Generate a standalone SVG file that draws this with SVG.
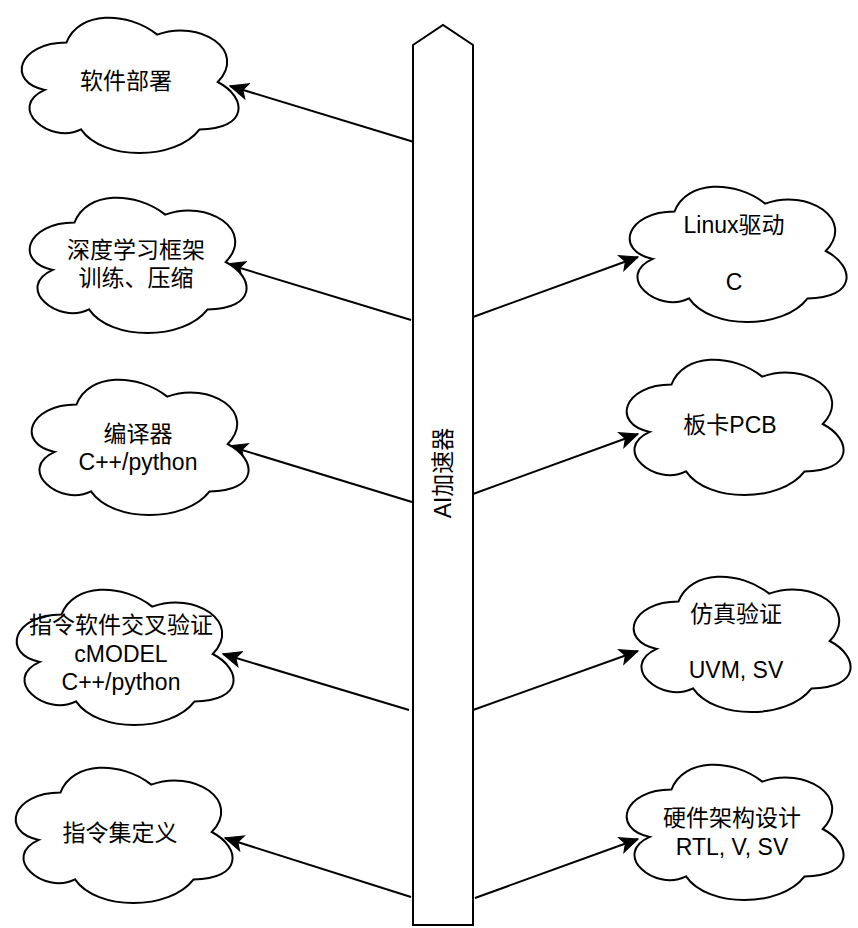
<svg xmlns="http://www.w3.org/2000/svg" xmlns:xlink="http://www.w3.org/1999/xlink" width="858" height="928" viewBox="0 0 858 928">
<style>
.cloud{fill:#fff;stroke:#000;stroke-width:2}
.shape{fill:#fff;stroke:#000;stroke-width:2}
.lbl{font-family:"Liberation Sans",Arial,"Noto Sans CJK SC",sans-serif;font-size:23px;fill:#000;text-anchor:middle}
.edge{fill:none;stroke:#000;stroke-width:2;marker-end:url(#arrow)}
</style>
<defs>
<path id="cloudShape" d="M60.5,39.5 C12.1,39.5 0,79 38.72,86.9 C0,104.28 43.56,142.2 75.02,126.4 C96.8,158 169.4,158 193.6,126.4 C242,126.4 242,94.8 211.75,79 C242,47.4 193.6,15.8 151.25,31.6 C121,7.9 72.6,7.9 60.5,39.5 Z"/>
<marker id="arrow" markerUnits="userSpaceOnUse" markerWidth="20" markerHeight="20" viewBox="-17 -8 18 16" refX="0" refY="0" orient="auto">
<path d="M0,0 L-16,-7 L-12,0 L-16,7 Z" fill="#000" stroke="#000" stroke-width="1"/>
</marker>
</defs>
<rect width="858" height="928" fill="#fff"/>

<g id="connectors">
<line class="edge" x1="414" y1="142" x2="230" y2="86"/>
<line class="edge" x1="411" y1="320" x2="227" y2="264"/>
<line class="edge" x1="412" y1="502" x2="229" y2="446"/>
<line class="edge" x1="409" y1="710" x2="223" y2="654"/>
<line class="edge" x1="411" y1="897" x2="225" y2="838"/>
<line class="edge" x1="473" y1="317" x2="638" y2="257"/>
<line class="edge" x1="473" y1="494" x2="638" y2="434"/>
<line class="edge" x1="473" y1="710" x2="638" y2="651"/>
<line class="edge" x1="475" y1="898" x2="638" y2="839"/>
</g>

<g id="ai-accelerator">
<polygon class="shape" points="413,45 443,25 473,45 473,925 413,925"/>
<text class="lbl" transform="translate(451,473) rotate(-90)">AI加速器</text>
</g>

<g id="software-deploy">
<use xlink:href="#cloudShape" class="cloud" transform="translate(6,3)"/>
<text class="lbl" x="126" y="89">软件部署</text>
</g>

<g id="dl-framework">
<use xlink:href="#cloudShape" class="cloud" transform="translate(14,183)"/>
<text class="lbl" x="136" y="258">深度学习框架</text>
<text class="lbl" x="136" y="286">训练、压缩</text>
</g>

<g id="compiler">
<use xlink:href="#cloudShape" class="cloud" transform="translate(16,365)"/>
<text class="lbl" x="138" y="442">编译器</text>
<text class="lbl" x="138" y="470">C++/python</text>
</g>

<g id="cmodel">
<use xlink:href="#cloudShape" class="cloud" transform="translate(1,575)"/>
<text class="lbl" x="121" y="633">指令软件交叉验证</text>
<text class="lbl" x="121" y="662">cMODEL</text>
<text class="lbl" x="121" y="690">C++/python</text>
</g>

<g id="isa">
<use xlink:href="#cloudShape" class="cloud" transform="translate(0,753)"/>
<text class="lbl" x="120" y="841">指令集定义</text>
</g>

<g id="linux-driver">
<use xlink:href="#cloudShape" class="cloud" transform="translate(614,172)"/>
<text class="lbl" x="734" y="233">Linux驱动</text>
<text class="lbl" x="734" y="290">C</text>
</g>

<g id="board-pcb">
<use xlink:href="#cloudShape" class="cloud" transform="translate(611,345)"/>
<text class="lbl" x="730" y="433">板卡PCB</text>
</g>

<g id="simulation">
<use xlink:href="#cloudShape" class="cloud" transform="translate(618,562)"/>
<text class="lbl" x="736" y="622">仿真验证</text>
<text class="lbl" x="736" y="678">UVM, SV</text>
</g>

<g id="hw-arch">
<use xlink:href="#cloudShape" class="cloud" transform="translate(611,750)"/>
<text class="lbl" x="732" y="826">硬件架构设计</text>
<text class="lbl" x="732" y="855">RTL, V, SV</text>
</g>
</svg>
